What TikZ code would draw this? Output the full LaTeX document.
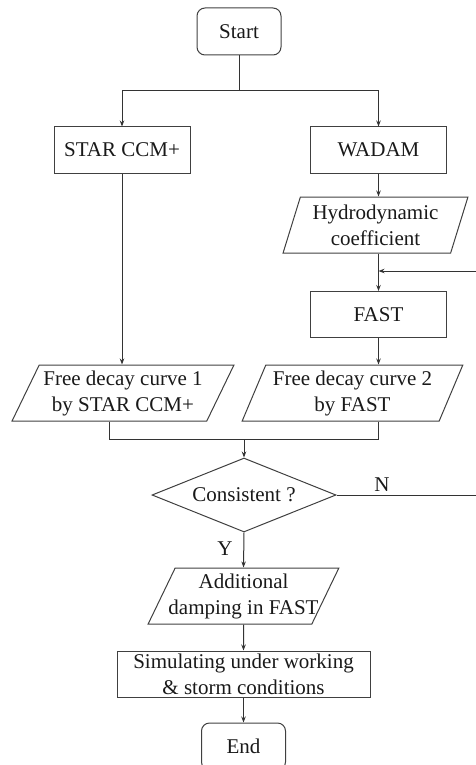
\documentclass[tikz,border=0pt]{standalone}
\usepackage{fontspec}
\setmainfont{Liberation Serif}
\usetikzlibrary{shapes.geometric}
\usetikzlibrary{arrows.meta}
\usetikzlibrary{calc}

\tikzset{
    box/.style={draw=black!75, line width=1pt, text=black!90, align=center,
        minimum width=136pt, minimum height=46pt, inner sep=2pt,
        font=\fontsize{21}{26}\selectfont},
    term/.style={box, rounded corners=8pt, minimum width=84pt, minimum height=47pt},
    io/.style={box, trapezium, trapezium left angle=#1, trapezium right angle={180-#1},
        trapezium stretches, minimum height=56pt, inner sep=1pt},
    decision/.style={box, diamond, aspect=2.5, minimum width=184pt, minimum height=74pt, inner sep=1pt},
    line/.style={draw=black!80, line width=1pt},
    tag/.style={text=black!90, font=\fontsize{21}{26}\selectfont},
    >={Stealth[length=6pt,width=4.5pt]}
}

\begin{document}
\begin{tikzpicture}[x=1pt, y=-1pt]
        \useasboundingbox (0,0) rectangle (475,765);

        % boxes
        \node[term] (start) at (239,31.5) {Start};
        \node[box] (star) at (122,150) {STAR CCM+};
        \node[box] (wadam) at (378.5,150) {WADAM};
        \node[io=71, minimum width=185pt] (hydro) at (375.5,225) {Hydrodynamic\\coefficient};
        \node[box] (fast) at (378.5,314.5) {FAST};
        \node[io=61, minimum width=222pt] (curve1) at (123,393) {Free decay curve 1\\by STAR CCM+};
        \node[io=65, minimum width=221pt] (curve2) at (352.5,393) {Free decay curve 2\\by FAST};
        \node[decision] (check) at (244,495) {Consistent ?};
        \node[io=61, minimum width=191pt, inner xsep=-9pt] (damp) at (243.5,596) {Additional\\damping in FAST};
        \node[box, minimum width=253pt] (sim) at (243.5,674) {Simulating under working\\\& storm conditions};
        \node[term] (stop) at (243.5,746.5) {End};

        % split after start
        \coordinate (split) at (239,91);
        \draw[line] (start) -- (split);
        \draw[line, ->] (split) -| (star);
        \draw[line, ->] (split) -| (wadam);

        % right branch
        \draw[line, ->] (wadam.south) -- (wadam.south |- hydro.north);
        \draw[line, ->] (fast.north |- hydro.south) -- (fast.north);
        \draw[line, ->] (fast.south) -- (fast.south |- curve2.north);

        % left branch
        \draw[line, ->] (star.south) -- (star.south |- curve1.north);

        % merge into check
        \coordinate (join) at (244,439);
        \draw[line] (curve1.bottom side) |- (join);
        \draw[line] (curve2.south -| fast.south) |- (join);
        \draw[line, ->] (join) -- (check.north);

        % loop back to FAST
        \coordinate (rim) at (478,495);
        \coordinate (back) at (378.5,271);
        \draw[line, ->] (check.east) -- (rim) |- (back);
        \node[tag] (no) at (382,485) {N};

        % yes path
        \draw[line, ->] (check.south) -- (damp.north);
        \node[tag] (yes) at (225,549) {Y};
        \draw[line, ->] (damp.south) -- (sim.north);
        \draw[line, ->] (sim.south) -- (stop.north);

    \end{tikzpicture}
\end{document}
